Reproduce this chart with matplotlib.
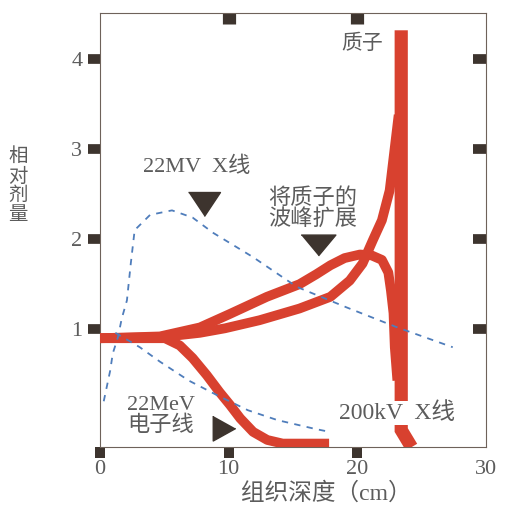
import matplotlib
matplotlib.use("Agg")
import matplotlib.pyplot as plt

plt.rcParams['font.family'] = ['Liberation Serif', 'Noto Sans CJK SC']

# depth (cm) / relative dose
proton_x = [0, 4.66, 7.77, 9.71, 12.4, 15.5, 17.9, 19.4, 20.4, 21.2, 21.9, 22.5, 22.9, 23.2]
proton_y = [0.90, 0.91, 0.96, 1.01, 1.10, 1.23, 1.36, 1.54, 1.73, 1.99, 2.21, 2.54, 3.02, 3.38]

peak_x = [23.4, 23.4, 24.2]
peak_y = [4.32, -0.12, -0.31]

sobp_x = [0, 4.66, 7.77, 10.1, 12.97, 15.5, 16.8, 17.9, 19.0, 20.2, 21.1, 21.9, 22.4, 22.6,
          22.8, 22.9, 23.1]
sobp_y = [0.90, 0.92, 1.02, 1.17, 1.36, 1.50, 1.61, 1.71, 1.79, 1.83, 1.82, 1.77, 1.63, 1.43,
          1.18, 0.80, 0.43]

elec_x = [0, 5.05, 6.2, 7.2, 8.3, 9.3, 10.1, 10.9, 11.9, 13.0, 14.2, 17.8]
elec_y = [0.90, 0.90, 0.82, 0.68, 0.49, 0.30, 0.16, 0.01, -0.14, -0.23, -0.27, -0.27]

mv22_x = [0.3, 0.8, 1.0, 1.4, 1.7, 2.1, 2.4, 2.7, 3.9, 5.6, 7.2, 8.8, 11.9, 15.3, 19.2, 23.1, 27.4]
mv22_y = [0.20, 0.54, 0.73, 0.91, 1.12, 1.32, 1.73, 2.10, 2.27, 2.32, 2.24, 2.07, 1.80, 1.47, 1.24, 1.02, 0.80]

kv200_x = [1.2, 3.1, 4.66, 6.9, 9.2, 11.5, 13.8, 16.8, 17.5]
kv200_y = [0.96, 0.80, 0.64, 0.43, 0.26, 0.10, -0.01, -0.11, -0.13]

xticks = [0, 10, 20, 30]
yticks = [1, 2, 3, 4]

red = '#d8412f'
blue = '#4f7dbb'
dark = '#3d342e'
grey = '#5c5c5c'

fig = plt.figure(figsize=(5.07, 5.07), dpi=100)
ax = fig.add_axes([0.197, 0.118, 0.762, 0.856])

# dashed X-ray curves
ax.plot(mv22_x, mv22_y, color=blue, lw=1.3, dashes=[3.5, 3.5], zorder=4)
ax.plot(kv200_x, kv200_y, color=blue, lw=1.3, dashes=[3.5, 3.5], zorder=4)

# proton / electron curves
for xs, ys in [(elec_x, elec_y), (sobp_x, sobp_y), (proton_x, proton_y)]:
    ax.plot(xs, ys, color=red, lw=7, solid_capstyle='butt', solid_joinstyle='round', zorder=3)
ax.plot(peak_x, peak_y, color=red, lw=9.5, solid_capstyle='butt',
        solid_joinstyle='miter', zorder=3)

# pointer triangles
ax.plot(8.1, 2.39, marker=[(-1, 0.75), (1, 0.75), (0, -0.75)], ms=23, color=dark, zorder=5)
ax.plot(16.9, 1.93, marker=[(-1, 0.6), (1, 0.6), (0, -0.6)], ms=25, color=dark, zorder=5)
ax.plot(9.6, -0.10, marker=[(-0.9, 1), (-0.9, -1), (0.9, 0)], ms=18, color=dark, zorder=5)

# labels
ax.text(20.4, 4.16, '质子', fontsize=15, color=grey, ha='center', va='center')
ax.text(7.5, 2.80, '22MV  X线', fontsize=16, color=grey, ha='center', va='center')
ax.text(16.5, 2.34, '将质子的\n波峰扩展', fontsize=16, color=grey, ha='center', va='center',
        linespacing=1.0)
ax.text(2.1, 0.04, '22MeV\n电子线', fontsize=16, color=grey, ha='left', va='center',
        linespacing=1.05)
ax.text(23.1, 0.07, '200kV  X线', fontsize=17, color=grey, ha='center', va='center',
        zorder=6, bbox=dict(facecolor='white', edgecolor='none', pad=1.0))

ax.set_xlim(0, 30)
ax.set_ylim(-0.31, 4.51)

for s in ax.spines.values():
    s.set_color('#6e625a')
    s.set_linewidth(0.8)

ax.set_xticks(xticks)
ax.set_yticks(yticks)
ax.tick_params(axis='x', direction='out', length=8, width=7.2, color=dark,
               labelsize=16, labelcolor=grey, pad=1)
ax.tick_params(axis='y', direction='out', length=8.6, width=7, color=dark,
               labelsize=16, labelcolor=grey, pad=4)
ax.xaxis.get_major_ticks()[-1].tick1line.set_visible(False)

top = ax.secondary_xaxis('top')
top.set_xticks([10, 20])
top.tick_params(direction='in', length=8, width=9.5, color=dark, labeltop=False)
top.spines['top'].set_visible(False)

right = ax.secondary_yaxis('right')
right.set_yticks(yticks)
right.tick_params(direction='in', length=9.5, width=7, color=dark, labelright=False)
right.spines['right'].set_visible(False)

fig.text(18 / 507, 1 - 186 / 507, '\n'.join('相对剂量'), fontsize=14, color=grey,
         ha='center', va='center', linespacing=1.15)
fig.text(326 / 507, 1 - 493 / 507, '组织深度（cm）', fontsize=17, color=grey,
         ha='center', va='center')

fig.savefig('out.png', dpi=100)
